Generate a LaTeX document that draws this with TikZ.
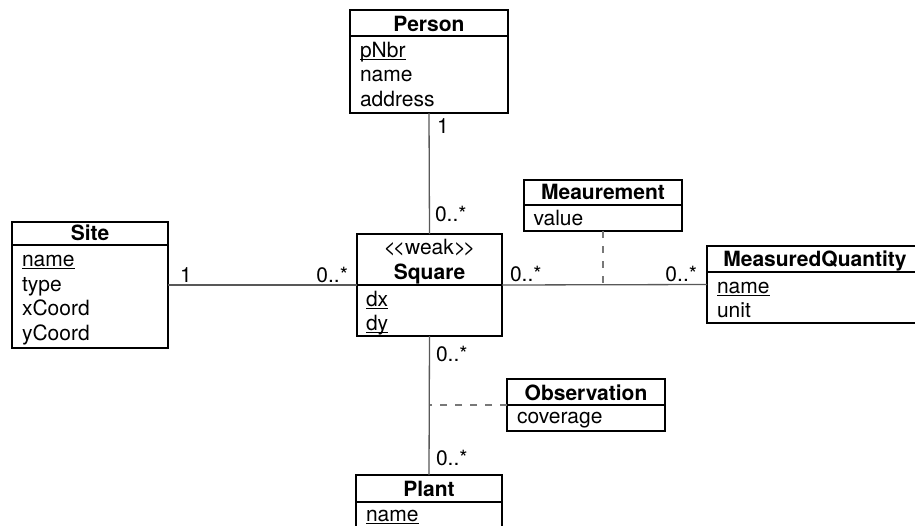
\documentclass[tikz,border=0pt]{standalone}
\usepackage{fontspec}
\setmainfont{TeX Gyre Heros}
% underlined key attribute
\newcommand{\pk}[1]{\setbox0\hbox{#1}\rlap{\rule[-2.7pt]{\wd0}{1.1pt}}\box0}
\definecolor{linegray}{RGB}{88,88,88}
\definecolor{dashgray}{RGB}{120,120,120}
\begin{document}
\begin{tikzpicture}[x=1pt,y=-1pt,
  every node/.style={inner sep=0pt, outer sep=0pt, font=\fontsize{21}{25}\selectfont},
  classbox/.style={draw=black, line width=1.2pt, anchor=north west},
  sep/.style={draw=black, line width=1.2pt},
  ttl/.style={anchor=base, font=\fontsize{21}{25}\selectfont\bfseries},
  stereo/.style={anchor=base},
  attr/.style={anchor=base west},
  conn/.style={draw=linegray, line width=1.3pt},
  assoc/.style={draw=dashgray, line width=1.3pt, dash pattern=on 7pt off 8pt},
  multl/.style={anchor=base west},
  multr/.style={anchor=base east}]
\useasboundingbox (0,0) rectangle (915,525);

% Person
\node[classbox, minimum width=158pt, minimum height=103pt] (person) at (350,10) {};
\draw[sep] (350,36) -- (508,36);
\node[ttl] (personT) at (429,31.5) {Person};
\node[attr] (personA1) at (360,57) {\pk{pNbr}};
\node[attr] (personA2) at (360,81.5) {name};
\node[attr] (personA3) at (360,106) {address};

% Site
\node[classbox, minimum width=156pt, minimum height=126pt] (site) at (12,222) {};
\draw[sep] (12,245) -- (168,245);
\node[ttl] (siteT) at (90,240.5) {Site};
\node[attr] (siteA1) at (22,266.5) {\pk{name}};
\node[attr] (siteA2) at (22,291) {type};
\node[attr] (siteA3) at (22,315.5) {xCoord};
\node[attr] (siteA4) at (22,340) {yCoord};

% Square
\node[classbox, minimum width=145pt, minimum height=102pt] (square) at (357,234) {};
\draw[sep] (357,285) -- (502,285);
\node[stereo] (squareS) at (429.5,254) {<\kern-3pt<weak>\kern-3pt>};
\node[ttl] (squareT) at (429.5,279) {Square};
\node[attr] (squareA1) at (366,306) {\pk{dx}};
\node[attr] (squareA2) at (366,330) {\pk{dy}};

% Meaurement
\node[classbox, minimum width=158pt, minimum height=51pt] (meas) at (524,180) {};
\draw[sep] (524,205) -- (682,205);
\node[ttl] (measT) at (603,199.5) {Meaurement};
\node[attr] (measA1) at (533.5,225.5) {value};

% MeasuredQuantity
\node[classbox, minimum width=216pt, minimum height=77pt] (mq) at (707,246) {};
\draw[sep] (707,272) -- (923,272);
\node[ttl] (mqT) at (815,266.5) {MeasuredQuantity};
\node[attr] (mqA1) at (717,293) {\pk{name}};
\node[attr] (mqA2) at (717,317) {unit};

% Observation
\node[classbox, minimum width=158pt, minimum height=52pt] (obs) at (507,379) {};
\draw[sep] (507,405) -- (665,405);
\node[ttl] (obsT) at (586,400) {Observation};
\node[attr] (obsA1) at (517,423) {coverage};

% Plant
\node[classbox, minimum width=146pt, minimum height=54pt] (plant) at (356,475) {};
\draw[sep] (356,502) -- (502,502);
\node[ttl] (plantT) at (429,496) {Plant};
\node[attr] (plantA1) at (366,521.5) {\pk{name}};

% associations
\draw[conn] (person.south) -- (square.north);
\draw[conn] (site.east) -- (square.west);
\draw[conn] (square.east) -- (mq.west);
\draw[conn] (square.south) -- (plant.north);

% association classes
\draw[assoc] (meas.south) -- (meas.south |- square.east);
\draw[assoc] (obs.west) -- (obs.west -| square.south);

% multiplicities
\node[multl] (m1) at (437,133) {1};
\node[multl] (m2) at (435,221.5) {0..*};
\node[multl] (m3) at (180,282) {1};
\node[multr] (m4) at (348,282) {0..*};
\node[multl] (m5) at (510,281) {0..*};
\node[multr] (m6) at (697,281) {0..*};
\node[multl] (m7) at (436,361.5) {0..*};
\node[multl] (m8) at (436,465) {0..*};
\end{tikzpicture}
\end{document}
